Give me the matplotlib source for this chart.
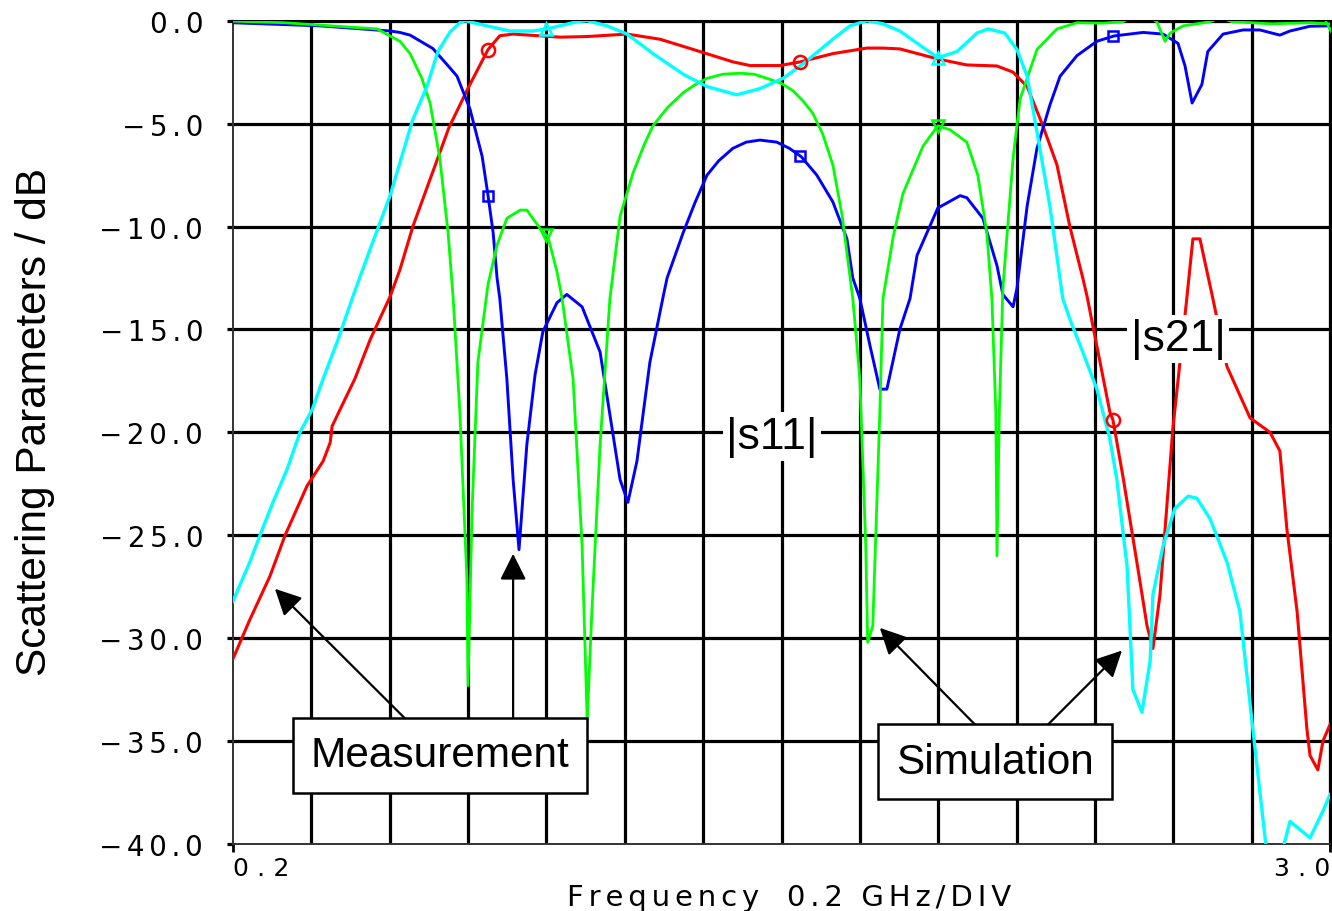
import numpy as np
import matplotlib
matplotlib.use("Agg")
import matplotlib.pyplot as plt

# frequency axis (GHz) and magnitudes (dB) for each trace
meas_s21_f = [0.200, 0.243, 0.294, 0.333, 0.389, 0.430, 0.448, 0.453, 0.473, 0.511, 0.550, 0.601,
              0.626, 0.659, 0.751, 0.802, 0.851, 0.881, 0.915, 1.035, 1.104, 1.206, 1.290, 1.392,
              1.476, 1.520, 1.596, 1.648, 1.731, 1.818, 1.859, 1.902, 1.999, 2.073, 2.150, 2.191,
              2.227, 2.267, 2.303, 2.336, 2.369, 2.380, 2.438, 2.446, 2.472, 2.507, 2.533, 2.548,
              2.566, 2.599, 2.635, 2.650, 2.668, 2.701, 2.737, 2.796, 2.847, 2.872, 2.890, 2.916,
              2.941, 2.949, 2.969, 2.982, 3.000]
meas_s21_db = [-31.0, -29.1, -27.0, -25.0, -22.6, -21.4, -20.5, -19.7, -18.9, -17.4, -15.5, -13.4,
               -12.1, -10.0, -5.2, -3.2, -1.4, -0.73, -0.65, -0.8, -0.77, -0.65, -0.9, -1.5,
               -2.0, -2.18, -2.18, -2.0, -1.6, -1.33, -1.33, -1.37, -1.86, -2.15, -2.2, -2.5,
               -3.2, -5.1, -7.0, -10.0, -12.5, -13.4, -19.0, -19.4, -22.2, -26.3, -29.4, -30.5,
               -27.9, -19.8, -13.4, -10.6, -10.6, -13.5, -16.8, -19.3, -20.0, -20.9, -24.7, -28.7,
               -34.4, -35.7, -36.4, -35.0, -34.2]

meas_s11_f = [0.200, 0.422, 0.601, 0.626, 0.652, 0.710, 0.754, 0.772, 0.805, 0.836, 0.851, 0.864,
              0.874, 0.881, 0.899, 0.915, 0.930, 0.950, 0.971, 0.991, 1.027, 1.052, 1.091, 1.137,
              1.188, 1.208, 1.231, 1.264, 1.298, 1.308, 1.349, 1.380, 1.410, 1.440, 1.476, 1.510,
              1.545, 1.588, 1.620, 1.650, 1.690, 1.731, 1.767, 1.782, 1.800, 1.826, 1.851, 1.869,
              1.902, 1.928, 1.946, 1.999, 2.056, 2.073, 2.114, 2.150, 2.165, 2.191, 2.201, 2.227,
              2.252, 2.285, 2.311, 2.354, 2.405, 2.449, 2.523, 2.574, 2.612, 2.630, 2.648, 2.673,
              2.688, 2.727, 2.778, 2.821, 2.872, 2.898, 2.949, 3.000]
meas_s11_db = [-0.1, -0.25, -0.5, -0.57, -0.7, -1.35, -2.3, -2.7, -4.3, -6.6, -8.5, -10.3,
               -12.5, -13.5, -17.4, -22.3, -25.7, -20.6, -17.2, -15.1, -13.7, -13.3, -13.9, -16.1,
               -22.3, -23.4, -21.4, -16.6, -13.4, -12.5, -10.3, -8.8, -7.5, -6.8, -6.2, -5.9,
               -5.8, -5.9, -6.2, -6.6, -7.5, -8.8, -10.6, -12.5, -13.5, -15.8, -17.9, -17.9,
               -15.0, -13.5, -11.4, -9.1, -8.5, -8.6, -9.6, -11.9, -13.3, -13.9, -13.0, -9.0,
               -6.2, -4.1, -2.7, -1.7, -1.0, -0.74, -0.57, -0.65, -1.1, -2.2, -4.0, -3.1,
               -1.5, -0.65, -0.45, -0.45, -0.7, -0.5, -0.27, -0.25]

sim_s11_f = [0.200, 0.333, 0.568, 0.626, 0.652, 0.682, 0.703, 0.728, 0.749, 0.762, 0.779, 0.797,
             0.800, 0.810, 0.825, 0.851, 0.874, 0.899, 0.933, 0.950, 0.984, 1.004, 1.027, 1.040,
             1.068, 1.091, 1.104, 1.116, 1.137, 1.162, 1.188, 1.221, 1.250, 1.272, 1.310, 1.349,
             1.380, 1.410, 1.450, 1.494, 1.530, 1.563, 1.600, 1.629, 1.655, 1.680, 1.705, 1.731,
             1.755, 1.782, 1.800, 1.815, 1.820, 1.833, 1.851, 1.859, 1.885, 1.910, 1.961, 1.999,
             2.030, 2.073, 2.101, 2.124, 2.137, 2.147, 2.150, 2.156, 2.165, 2.191, 2.209, 2.252,
             2.303, 2.354, 2.421, 2.472, 2.490, 2.540, 2.558, 2.579, 2.592, 2.625, 2.694, 2.720,
             2.750, 2.850, 2.950, 3.000]
sim_s11_db = [-0.02, -0.1, -0.4, -1.0, -1.6, -2.8, -4.0, -6.7, -10.3, -13.5, -19.0, -27.1,
              -32.3, -23.9, -16.6, -12.8, -10.9, -9.6, -9.2, -9.2, -10.1, -10.5, -12.2, -13.5,
              -17.4, -25.5, -34.0, -28.7, -20.6, -13.5, -9.5, -7.4, -6.0, -5.1, -4.2, -3.5,
              -3.1, -2.8, -2.6, -2.55, -2.6, -2.8, -3.05, -3.4, -3.9, -4.5, -5.5, -7.0,
              -9.5, -13.5, -17.4, -25.5, -30.2, -29.4, -19.0, -13.5, -10.5, -8.4, -6.1, -5.1,
              -5.3, -5.9, -7.5, -10.3, -13.5, -19.0, -26.0, -19.0, -13.0, -6.7, -3.8, -1.4,
              -0.4, -0.1, -0.12, -0.05, 0.2, 0.2, -0.05, -1.0, -0.6, -0.25, -0.05, 0.15,
              -0.05, -0.15, -0.1, -0.15]

sim_s21_f = [0.200, 0.243, 0.269, 0.302, 0.338, 0.371, 0.402, 0.430, 0.468, 0.506, 0.550, 0.601,
             0.626, 0.659, 0.695, 0.723, 0.754, 0.779, 0.792, 0.848, 0.907, 0.966, 1.001, 1.078,
             1.104, 1.155, 1.206, 1.272, 1.349, 1.410, 1.486, 1.545, 1.604, 1.655, 1.731, 1.775,
             1.818, 1.859, 1.902, 1.999, 2.048, 2.099, 2.127, 2.170, 2.201, 2.227, 2.252, 2.285,
             2.318, 2.336, 2.369, 2.405, 2.438, 2.456, 2.482, 2.497, 2.520, 2.541, 2.548, 2.574,
             2.604, 2.638, 2.660, 2.694, 2.737, 2.770, 2.803, 2.839, 2.876, 2.898, 2.949, 2.982,
             3.000]
sim_s21_db = [-28.2, -26.3, -25.0, -23.4, -21.8, -20.0, -18.9, -17.4, -15.5, -13.4, -11.1, -8.5,
              -6.9, -4.8, -3.2, -1.5, -0.55, -0.1, 0.0, -0.25, -0.5, -0.5, -0.4, -0.05,
              0.0, -0.25, -0.65, -1.6, -2.6, -3.2, -3.6, -3.3, -2.8, -2.1, -0.9, -0.25,
              0.0, -0.15, -0.5, -1.8, -1.5, -0.6, -0.4, -0.6, -1.4, -2.7, -5.4, -9.0,
              -13.5, -14.5, -16.1, -17.9, -20.3, -22.3, -26.5, -32.5, -33.6, -31.1, -27.9, -25.5,
              -23.7, -23.1, -23.2, -24.2, -26.3, -28.7, -34.4, -40.5, -40.5, -38.9, -39.7, -38.4,
              -37.6]

# trace markers: every 0.8 GHz on the analyser traces, every 1 GHz on the simulated ones
meas_marker_f = [0.851, 1.648, 2.446]
s11_sim_marker_f = [1.0, 2.0, 3.0]
s21_sim_marker_f = [1.0, 2.0]

y_ticks = [-40, -35, -30, -25, -20, -15, -10, -5, 0]
x_ticks = [0.2, 3.0]
x_grid = np.arange(0.4, 3.01, 0.2)
y_grid = np.arange(-35, 0.1, 5)


def spaced(s, sp="\u2006"):
    # plotter-style wide lettering
    return sp.join(s)


def num_label(v, sp="\u2006"):
    return spaced(f"{v:.1f}".replace("-", "\u2212"), sp)


fig = plt.figure(figsize=(13.32, 9.12), dpi=100)
ax = fig.add_axes([233 / 1332, 1 - 845 / 912, 1097 / 1332, 823.3 / 912])
ax.set_xlim(0.2, 3.0)
ax.set_ylim(-40, 0)

for x in x_grid:
    ax.axvline(x, color="black", lw=2.3, zorder=1)
for y in y_grid:
    ax.axhline(y, color="black", lw=2.3, zorder=1)

ax.set_yticks(y_ticks)
ax.set_yticklabels([num_label(v) for v in y_ticks], fontsize=20, family="DejaVu Sans")
ax.tick_params(axis="y", direction="out", length=4.5, width=2.3, pad=17)
ax.set_xticks(x_ticks)
ax.set_xticklabels([num_label(v, "\u2004") for v in x_ticks], fontsize=18, family="DejaVu Sans")
ax.tick_params(axis="x", direction="out", length=5.5, width=2.0, pad=3)
xl = ax.get_xticklabels()
xl[0].set_ha("left")
xl[1].set_ha("right")

for side in ["left", "bottom"]:
    ax.spines[side].set_linewidth(1.4)
    ax.spines[side].set_color("#333333")
for side in ["top", "right"]:
    ax.spines[side].set_linewidth(2.2)

traces = [
    (meas_s21_f, meas_s21_db, "#ff0000", 2.2, "o", 9.5, meas_marker_f),
    (meas_s11_f, meas_s11_db, "#0000ff", 2.1, "s", 7.5, meas_marker_f),
    (sim_s11_f, sim_s11_db, "#00ff00", 2.0, "v", 9.0, s11_sim_marker_f),
    (sim_s21_f, sim_s21_db, "#00ffff", 2.4, "^", 9.0, s21_sim_marker_f),
]
for f, db, col, lw, mk, ms, mf in traces:
    ax.plot(f, db, color=col, lw=lw, zorder=3)
    ax.plot(mf, np.interp(mf, f, db), ls="none", marker=mk, ms=ms, mfc="none",
            mec=col, mew=1.8, zorder=4)

label_font = "Liberation Sans"
for x, y, s in [(1.576, -20.2, "|s11|"), (2.612, -15.45, "|s21|")]:
    ax.text(x, y, s, fontsize=32, family=label_font, ha="center", va="center",
            bbox=dict(boxstyle="square,pad=0.08", fc="white", ec="none"), zorder=6)

arrow_style = dict(arrowstyle="-|>,head_length=0.4,head_width=0.2", color="black",
                   lw=1.6, mutation_scale=40, shrinkA=0, shrinkB=0)
arrows = [((0.307, -27.6), (0.639, -33.9)),
          ((0.915, -25.9), (0.915, -33.9)),
          ((1.851, -29.5), (2.094, -34.2)),
          ((2.469, -30.6), (2.280, -34.2))]
for head, tail in arrows:
    ax.annotate("", xy=head, xytext=tail, arrowprops=arrow_style, zorder=5)

box = dict(boxstyle="square,pad=0.42", fc="white", ec="black", lw=1.8)
ax.text(0.728, -35.7, "Measurement", fontsize=30.5, family=label_font,
        ha="center", va="center", bbox=box, zorder=7)
ax.text(2.145, -36.0, "Simulation", fontsize=30.5, family=label_font,
        ha="center", va="center", bbox=box, zorder=7)

fig.text(35 / 1332, 1 - 422 / 912, "Scattering Parameters / dB", rotation=90,
         fontsize=30.5, family=label_font, ha="center", va="center")
xlabel = spaced("Frequency") + "   " + spaced("0.2") + "  " + spaced("GHz/DIV")
fig.text(789 / 1332, 1 - 898 / 912, xlabel, fontsize=21, family="DejaVu Sans",
         ha="center", va="center")

fig.savefig("out.png", dpi=100, facecolor="white")
